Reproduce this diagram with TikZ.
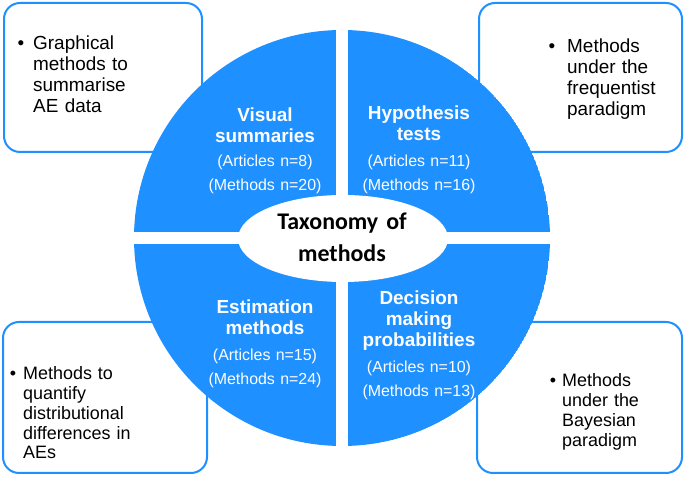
\documentclass[tikz,border=0pt]{standalone}
\usepackage{fontspec}
\setmainfont{Liberation Sans}
\newfontfamily\carlito{Carlito}
\definecolor{qblue}{RGB}{30,144,255}
\begin{document}
\begin{tikzpicture}[x=1bp,y=1bp,
  boxframe/.style={draw=qblue, line width=2bp, fill=white, rounded corners=16bp},
  bul/.style={anchor=base, inner sep=0pt, font=\fontsize{#1}{#1}\selectfont},
  boxtxt/.style={anchor=base west, inner sep=0pt, align=left, text width=130bp},
  qtitle/.style={anchor=base, inner sep=0pt, align=center, text width=170bp, text=white, font=\bfseries\fontsize{19}{21}\selectfont},
  qcount/.style={anchor=base, inner sep=0pt, align=center, text width=170bp, text=white, font=\fontsize{16}{24}\selectfont},
  taxo/.style={anchor=base, inner sep=0pt, align=center, text width=200bp, text=black, font=\carlito\bfseries\fontsize{24}{31.7}\selectfont}
]
\useasboundingbox (0,0) rectangle (685,477);
% corner boxes
\path[boxframe] (4,325) rectangle (202,474);
\path[boxframe] (479,325) rectangle (682,474);
\path[boxframe] (3,4) rectangle (207,155);
\path[boxframe] (477,4) rectangle (682,155);
% circle quadrants
\begin{scope}
  \clip (342,239) circle (208);
  \fill[qblue] (342,239) circle (208);
  \fill[white] (336,0) rectangle (348,477);
  \fill[white] (0,233) rectangle (685,245);
\end{scope}
\fill[white] (343,238.5) ellipse [x radius=105, y radius=43.5];
% box texts
\node[bul=19] (b1) at (21,427) {•};
\node[boxtxt, font=\fontsize{19}{21}\selectfont] (t1) at (33,427)
  {Graphical\\\makebox[98bp][s]{methods to}\\summarise\\AE data};
\node[bul=19] (b2) at (552,424) {•};
\node[boxtxt, font=\fontsize{19}{21}\selectfont] (t2) at (567,424)
  {Methods\\\makebox[84bp][s]{under the}\\frequentist\\paradigm};
\node[bul=18] (b3) at (13,97.7) {•};
\node[boxtxt, font=\fontsize{18}{20}\selectfont] (t3) at (23,97.7)
  {\makebox[93bp][s]{Methods to}\\quantify\\distributional\\\makebox[111bp][s]{differences in}\\AEs};
\node[bul=18] (b4) at (553,90.3) {•};
\node[boxtxt, font=\fontsize{18}{20}\selectfont] (t4) at (562,90.3)
  {Methods\\under the\\Bayesian\\paradigm};
% quadrant texts
\node[qtitle] (vs) at (265,355.3) {Visual\\summaries};
\node[qcount] (vsn) at (265,310.3) {(Articles n=8)\\(Methods n=20)};
\node[qtitle] (ht) at (419,357.7) {Hypothesis\\tests};
\node[qcount] (htn) at (419,310.3) {(Articles n=11)\\(Methods n=16)};
\node[qtitle] (em) at (265,163) {Estimation\\methods};
\node[qcount] (emn) at (265,116.3) {(Articles n=15)\\(Methods n=24)};
\node[qtitle] (dm) at (419,172) {Decision\\making\\probabilities};
\node[qcount] (dmn) at (419,104.3) {(Articles n=10)\\(Methods n=13)};
% centre
\node[taxo] (tax) at (342,247) {Taxonomy of\\methods};
\end{tikzpicture}
\end{document}
